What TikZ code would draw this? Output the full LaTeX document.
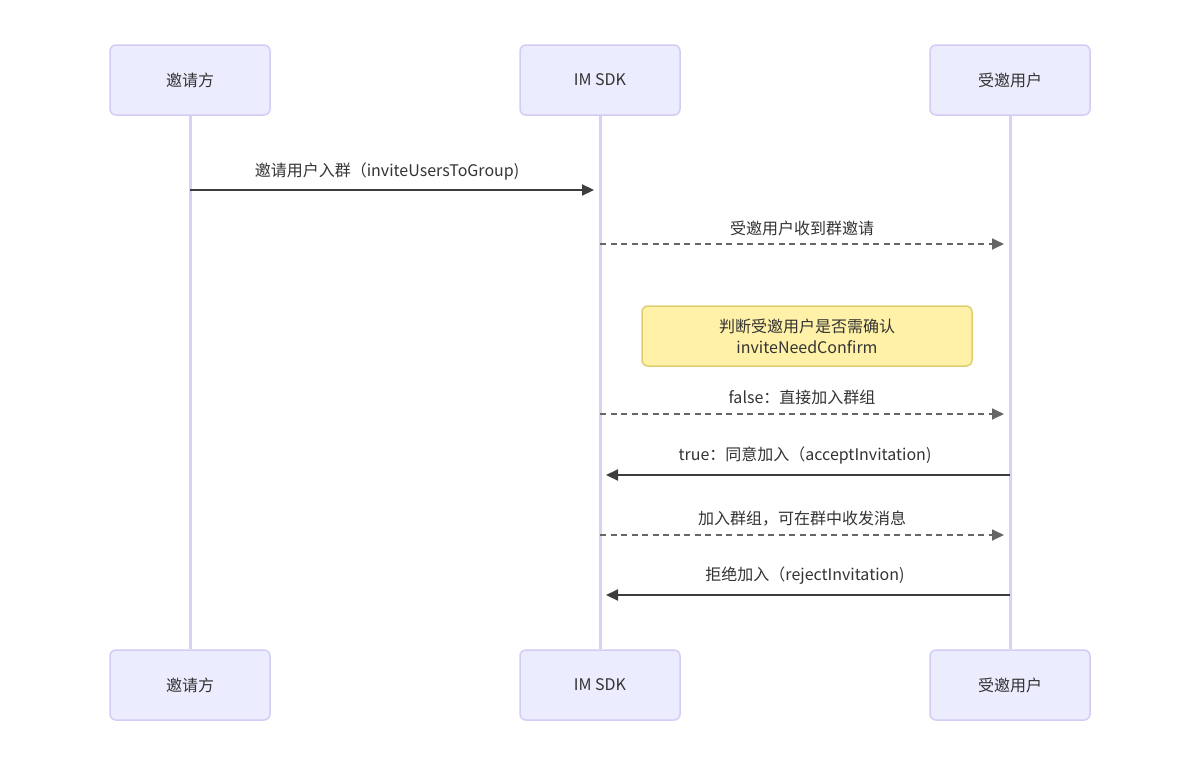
\documentclass[tikz,border=0pt]{standalone}
\usepackage{fontspec}
\setmainfont{Noto Sans CJK SC}
\usetikzlibrary{arrows.meta}

\definecolor{actorfill}{HTML}{ECECFF}
\definecolor{actorline}{HTML}{D4CCF4}
\definecolor{lifeline}{HTML}{D9D0F5}
\definecolor{notefill}{HTML}{FFF2A8}
\definecolor{noteline}{HTML}{E0CE6E}
\definecolor{msgtext}{HTML}{333333}

\tikzset{
    actor/.style={draw=actorline, line width=1.5pt, fill=actorfill, rounded corners=6pt,
        minimum width=160pt, minimum height=70pt, text=msgtext, font=\fontsize{16}{19}\selectfont},
    life/.style={lifeline, line width=3pt},
    msg/.style={draw=msgtext!95, line width=2.2pt, -{Triangle[length=12pt,width=11pt]}},
    reply/.style={draw=black!60, line width=1.8pt, dash pattern=on 6pt off 4.5pt,
        -{Triangle[length=12pt,width=11pt]}},
    label/.style={text=msgtext, font=\fontsize{16}{19}\selectfont},
    note/.style={draw=noteline, line width=1.5pt, fill=notefill, rounded corners=6pt,
        minimum width=330pt, minimum height=60pt, text=msgtext, align=center,
        font=\fontsize{16}{21}\selectfont}
}

\begin{document}
\begin{tikzpicture}[x=1pt, y=-1pt]
        \useasboundingbox (0,0) rectangle (1200,764);

        % participants, top and bottom
        \node[actor] (inv) at (190,80) {邀请方};
        \node[actor] (sdk) at (600,80) {IM SDK};
        \node[actor] (usr) at (1010,80) {受邀用户};
        \node[actor] (invB) at (190,685) {邀请方};
        \node[actor] (sdkB) at (600,685) {IM SDK};
        \node[actor] (usrB) at (1010,685) {受邀用户};

        \draw[life] (inv) -- (invB);
        \draw[life] (sdk) -- (sdkB);
        \draw[life] (usr) -- (usrB);

        % message end points
        \coordinate (m1a) at (190,190);  \coordinate (m1b) at (594,190);
        \coordinate (m2a) at (600,244);  \coordinate (m2b) at (1004,244);
        \coordinate (m3a) at (600,414);  \coordinate (m3b) at (1004,414);
        \coordinate (m4a) at (1010,475); \coordinate (m4b) at (606,475);
        \coordinate (m5a) at (600,535);  \coordinate (m5b) at (1004,535);
        \coordinate (m6a) at (1010,595); \coordinate (m6b) at (606,595);

        \draw[msg] (m1a) -- (m1b);
        \node[label] (l1) at (387,171) {邀请用户入群（inviteUsersToGroup)};
        \draw[reply] (m2a) -- (m2b);
        \node[label] (l2) at (802,228) {受邀用户收到群邀请};

        \node[note] (chk) at (807,336) {判断受邀用户是否需确认\\inviteNeedConfirm};

        \draw[reply] (m3a) -- (m3b);
        \node[label] (l3) at (802,397) {false：直接加入群组};
        \draw[msg] (m4a) -- (m4b);
        \node[label] (l4) at (805,455) {true：同意加入（acceptInvitation)};
        \draw[reply] (m5a) -- (m5b);
        \node[label] (l5) at (802,519) {加入群组，可在群中收发消息};
        \draw[msg] (m6a) -- (m6b);
        \node[label] (l6) at (805,576) {拒绝加入（rejectInvitation)};
    \end{tikzpicture}
\end{document}
